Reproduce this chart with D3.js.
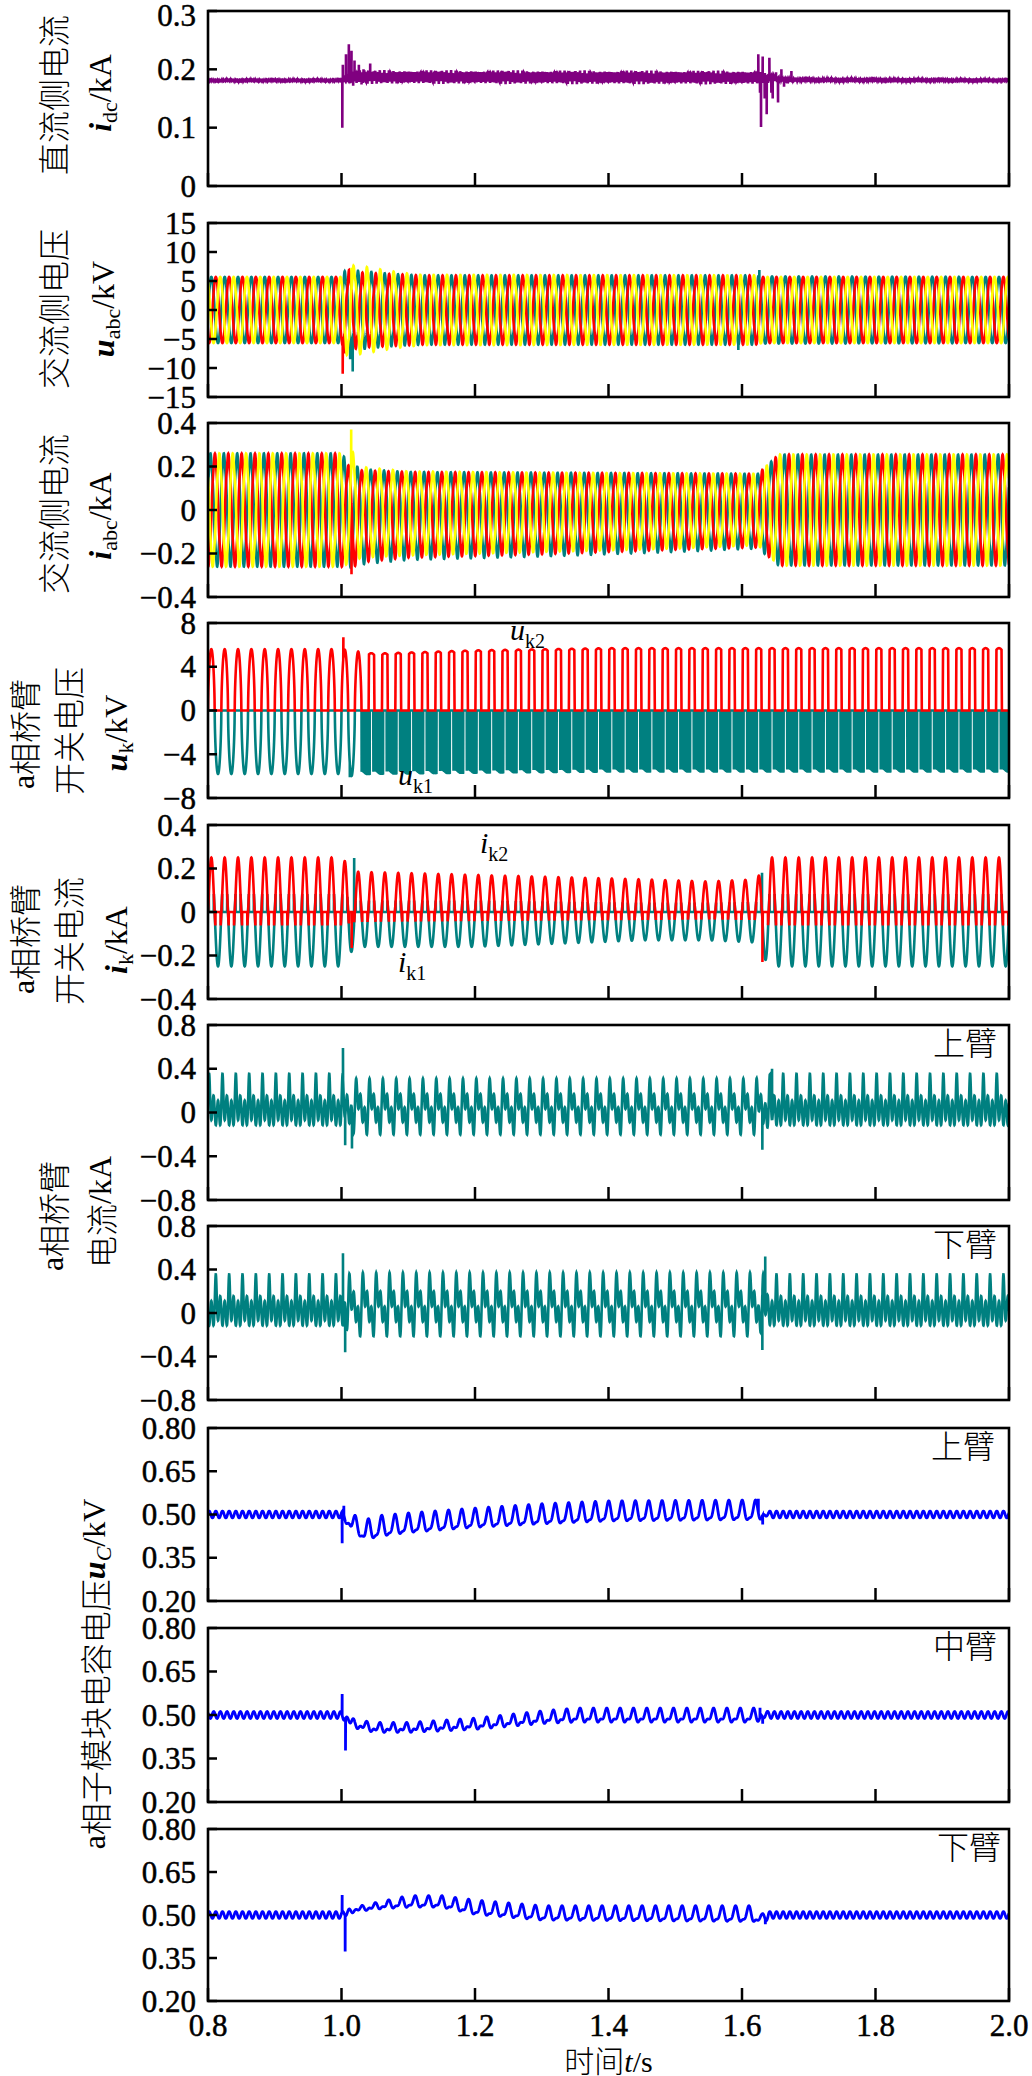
<!DOCTYPE html>
<html><head><meta charset="utf-8">
<script src="https://cdn.jsdelivr.net/npm/d3@7"></script>
<style>body{margin:0;background:#fff;}svg{display:block;}</style>
</head><body>
<svg id="chart" width="1032" height="2076"></svg>
<script>
// ================= DATA =================
const timeDomain = [0.8, 2.0];
const xTickValues = [0.8, 1.0, 1.2, 1.4, 1.6, 1.8, 2.0];
const xTickLabels = ["0.8", "1.0", "1.2", "1.4", "1.6", "1.8", "2.0"];
const gridFreq = 50;

const yDomains = [[0,0.3],[-15,15],[-0.4,0.4],[-8,8],[-0.4,0.4],[-0.8,0.8],[-0.8,0.8],[0.2,0.8],[0.2,0.8],[0.2,0.8]];
const yTickValues = [
  [0,0.1,0.2,0.3],[-15,-10,-5,0,5,10,15],[-0.4,-0.2,0,0.2,0.4],[-8,-4,0,4,8],[-0.4,-0.2,0,0.2,0.4],
  [-0.8,-0.4,0,0.4,0.8],[-0.8,-0.4,0,0.4,0.8],[0.2,0.35,0.5,0.65,0.8],[0.2,0.35,0.5,0.65,0.8],[0.2,0.35,0.5,0.65,0.8]];
const yTickLabels = [
  ["0","0.1","0.2","0.3"],["−15","−10","−5","0","5","10","15"],["−0.4","−0.2","0","0.2","0.4"],["−8","−4","0","4","8"],
  ["−0.4","−0.2","0","0.2","0.4"],["−0.8","−0.4","0","0.4","0.8"],["−0.8","−0.4","0","0.4","0.8"],
  ["0.20","0.35","0.50","0.65","0.80"],["0.20","0.35","0.50","0.65","0.80"],["0.20","0.35","0.50","0.65","0.80"]];

// Panel 1: DC-side current (kA)
const idcKeyT   = [0.8, 1.0, 1.02, 1.62, 1.67, 2.0];
const idcLevel  = [0.181, 0.181, 0.187, 0.186, 0.182, 0.181];
const idcRipple = [0.0015, 0.0015, 0.012, 0.012, 0.002, 0.0015];
const idcSpikes = [[1.0012,0.100],[1.0020,0.208],[1.0045,0.190],[1.0067,0.226],[1.0085,0.178],[1.0110,0.243],
  [1.0130,0.176],[1.0150,0.232],[1.0175,0.172],[1.0195,0.215],[1.0225,0.178],[1.0260,0.208],[1.0300,0.174],
  [1.0330,0.200],[1.0430,0.210],[1.6244,0.226],[1.6270,0.160],[1.6285,0.101],[1.6310,0.222],[1.6340,0.150],
  [1.6370,0.123],[1.6410,0.220],[1.6440,0.160],[1.6460,0.150],[1.6510,0.195],[1.6540,0.143],[1.6590,0.200],
  [1.6630,0.170],[1.6680,0.176],[1.6740,0.197],[1.6800,0.186]];

// Panel 2: AC-side voltage (kV), phases a(teal) b(red) c(yellow)
const uabcKeyT = [0.8, 1.0, 1.005, 1.03, 1.06, 1.09, 1.12, 1.62, 1.63, 2.0];
const uaAmp    = [5.7, 5.7, 6.2, 6.3, 6.0, 5.8, 5.7, 5.7, 5.8, 5.7];
const ubAmp    = [5.7, 5.7, 6.5, 6.0, 5.9, 5.8, 5.7, 5.7, 5.7, 5.7];
const ucAmp    = [5.7, 5.7, 7.2, 7.1, 6.6, 6.1, 5.8, 5.7, 5.7, 5.7];
const uabcDist = [0, 0, 0.6, 0.5, 0.4, 0.35, 0.3, 0.3, 0, 0];
const uaSpikes = [[1.0168,-10.6],[1.0130,-8.5],[1.5945,-6.9],[1.6260,6.9]];
const ubSpikes = [[1.0018,-11.0],[1.0050,-7.5]];
const ucSpikes = [[1.0150,7.3]];

// Panel 3: AC-side current (kA), positive/negative peak per phase
const iabcKeyT = [0.8, 1.0, 1.008, 1.03, 1.1, 1.3, 1.5, 1.624, 1.655, 2.0];
const iaPos = [0.25, 0.25, 0.22, 0.18, 0.168, 0.165, 0.162, 0.16, 0.245, 0.245];
const iaNeg = [0.25, 0.25, 0.26, 0.24, 0.22, 0.205, 0.185, 0.17, 0.245, 0.245];
const ibPos = [0.25, 0.25, 0.20, 0.175, 0.168, 0.165, 0.162, 0.16, 0.245, 0.245];
const ibNeg = [0.25, 0.25, 0.27, 0.23, 0.21, 0.195, 0.175, 0.165, 0.245, 0.245];
const icPos = [0.25, 0.25, 0.30, 0.19, 0.17, 0.165, 0.162, 0.16, 0.245, 0.245];
const icNeg = [0.25, 0.25, 0.24, 0.21, 0.20, 0.185, 0.17, 0.155, 0.245, 0.245];
const iaSpikes = [];
const ibSpikes = [[1.0150,-0.295]];
const icSpikes = [[1.0145,0.37]];

// Panel 4: a-phase bridge-arm switch voltages (kV)
const ukKeyT     = [0.8, 1.0, 1.01, 1.05, 1.2, 1.4, 2.0];
const uk2Amp     = [5.6, 5.6, 5.5, 5.2, 5.5, 5.7, 5.7];
const uk1Amp     = [5.8, 5.8, 6.0, 5.9, 5.8, 5.7, 5.7];
const ukSwitching= [0, 0, 0, 1, 1, 1, 1];
const uk2Spikes  = [[1.0028,6.7]];
const uk1Spikes  = [[1.0125,-6.1]];

// Panel 5: a-phase bridge-arm switch currents (kA)
const ikKeyT  = [0.8, 1.0, 1.02, 1.2, 1.45, 1.55, 1.622, 1.64, 2.0];
const ik2Amp  = [0.25, 0.25, 0.185, 0.17, 0.15, 0.14, 0.15, 0.25, 0.25];
const ik1Amp  = [0.25, 0.25, 0.16, 0.16, 0.13, 0.13, 0.14, 0.25, 0.25];
const ik2Spikes = [[1.0153,-0.165],[1.6306,-0.23]];
const ik1Spikes = [[1.0190,0.248],[1.6300,0.18]];

// Panels 6,7: a-phase arm currents (kA), harmonic content per period
const armKeyT = [0.8, 1.0, 1.02, 1.62, 1.645, 2.0];
const upOff = [0.02, 0.02, 0.04, 0.04, 0.02, 0.02];
const upA1  = [0.03, 0.03, 0.12, 0.12, 0.03, 0.03];
const upA2  = [0.00, 0.00, 0.06, 0.06, 0.00, 0.00];
const upA3  = [0.12, 0.12, 0.12, 0.12, 0.12, 0.12];
const upPk  = [0.20, 0.20, 0.03, 0.03, 0.20, 0.20];
const loOff = [0.02, 0.02, 0.06, 0.06, 0.02, 0.02];
const loA1  = [0.03, 0.03, 0.14, 0.14, 0.03, 0.03];
const loA2  = [0.00, 0.00, 0.07, 0.07, 0.00, 0.00];
const loA3  = [0.12, 0.12, 0.13, 0.13, 0.12, 0.12];
const loPk  = [0.20, 0.20, 0.04, 0.04, 0.20, 0.20];
const upArmSpikes = [[1.0022,0.59],[1.0055,-0.30],[1.0157,-0.33],[1.6305,-0.34],[1.6450,0.40]];
const loArmSpikes = [[1.0022,0.55],[1.0055,-0.36],[1.6305,-0.34],[1.6348,0.52]];

// Panels 8-10: sub-module capacitor voltages (kV): trough / peak per period, small ripple
const ucUpT   = [0.8, 1.0, 1.015, 1.035, 1.06, 1.1, 1.2, 1.3, 1.4, 1.625, 1.64, 2.0];
const ucUpLo  = [0.5, 0.5, 0.45, 0.415, 0.428, 0.44, 0.458, 0.47, 0.48, 0.485, 0.5, 0.5];
const ucUpHi  = [0.5, 0.5, 0.50, 0.48, 0.495, 0.503, 0.52, 0.535, 0.545, 0.548, 0.5, 0.5];
const ucUpRip = [0.012, 0.012, 0.004, 0.004, 0.004, 0.004, 0.004, 0.004, 0.004, 0.004, 0.012, 0.012];
const ucUpSpikes = [[1.0010,0.40],[1.0035,0.53],[1.6245,0.555],[1.6310,0.465]];
const ucMidT   = [0.8, 1.0, 1.02, 1.05, 1.1, 1.2, 1.3, 1.35, 1.62, 1.64, 2.0];
const ucMidLo  = [0.5, 0.5, 0.46, 0.445, 0.445, 0.455, 0.475, 0.48, 0.48, 0.5, 0.5];
const ucMidHi  = [0.5, 0.5, 0.48, 0.47, 0.47, 0.485, 0.51, 0.52, 0.52, 0.5, 0.5];
const ucMidRip = [0.012, 0.012, 0.006, 0.006, 0.006, 0.006, 0.006, 0.006, 0.006, 0.012, 0.012];
const ucMidSpikes = [[1.0010,0.572],[1.0060,0.378],[1.6270,0.525],[1.6310,0.47]];
const ucLowT   = [0.8, 1.0, 1.02, 1.06, 1.1, 1.15, 1.2, 1.3, 1.62, 1.63, 1.64, 2.0];
const ucLowLo  = [0.5, 0.5, 0.515, 0.525, 0.53, 0.53, 0.505, 0.485, 0.48, 0.47, 0.5, 0.5];
const ucLowHi  = [0.5, 0.5, 0.525, 0.545, 0.565, 0.565, 0.55, 0.53, 0.53, 0.5, 0.5, 0.5];
const ucLowRip = [0.012, 0.012, 0.004, 0.004, 0.004, 0.004, 0.004, 0.004, 0.004, 0.006, 0.012, 0.012];
const ucLowSpikes = [[1.0010,0.57],[1.0055,0.373],[1.6350,0.468]];

// ================= LAYOUT =================
const W = 1032, H = 2076;
const plotLeft = 208, plotRight = 1009;
const panelTop    = [11, 223, 423, 623, 825, 1025, 1226, 1428, 1628, 1829];
const panelBottom = [186, 397, 597, 798, 999, 1200, 1400, 1601, 1802, 2001];
const serif = "'Liberation Serif','Times New Roman',serif";
const cjk = "'Noto Sans CJK SC','Noto Sans CJK JP',sans-serif";
const COL = {purple:"#800080", teal:"#008080", red:"#ff0000", yellow:"#ffff00", blue:"#0000ff"};

const svg = d3.select("#chart");
svg.append("rect").attr("width", W).attr("height", H).attr("fill", "#fff");
const x = d3.scaleLinear().domain(timeDomain).range([plotLeft, plotRight]);
const ys = yDomains.map((d, i) => d3.scaleLinear().domain(d).range([panelBottom[i], panelTop[i]]));

const defs = svg.append("defs");
panelTop.forEach((t, i) => {
  defs.append("clipPath").attr("id", "clip" + i).append("rect")
    .attr("x", plotLeft).attr("y", t).attr("width", plotRight - plotLeft).attr("height", panelBottom[i] - t);
});

// ================= SIGNALS =================
const TWO_PI = 2 * Math.PI, w = TWO_PI * gridFreq;
const DT = 0.0002;
const tSamples = d3.range(0, Math.round((timeDomain[1] - timeDomain[0]) / DT) + 1).map(i => timeDomain[0] + i * DT);
function K(T, V) {
  const f = d3.scaleLinear().domain(T).range(V).clamp(true);
  return t => f(t);
}
function build(fn, spikes) {
  let pts = tSamples.map((t, i) => [t, fn(t, i)]);
  if (spikes && spikes.length) { pts = pts.concat(spikes.map(s => [s[0], s[1]])); pts.sort((a, b) => a[0] - b[0]); }
  return pts;
}
const series = [];

// Panel 1
{ const L = K(idcKeyT, idcLevel), R = K(idcKeyT, idcRipple);
  series.push({p:0, color:COL.purple, w:2.6, pts: build(t => L(t) + R(t) * (0.45*Math.sin(TWO_PI*300*t) + 0.3*Math.sin(TWO_PI*1170*t + 1.0) + 0.25*Math.sin(TWO_PI*730*t + 2.1)), idcSpikes)}); }

// Panel 2
{ const ph = [0, -TWO_PI/3, TWO_PI/3];
  const amps = [uaAmp, ubAmp, ucAmp], spk = [uaSpikes, ubSpikes, ucSpikes], cols = [COL.teal, COL.red, COL.yellow];
  const D = K(uabcKeyT, uabcDist);
  amps.forEach((a, k) => { const A = K(uabcKeyT, a);
    series.push({p:1, color:cols[k], w:2.6, pts: build(t => { const th = w*t + ph[k]; return A(t)*Math.sin(th) + D(t)*Math.sin(5*th + 0.7); }, spk[k])}); }); }

// Panel 3
{ const ph = [0.4, 0.4 - TWO_PI/3, 0.4 + TWO_PI/3];
  const pos = [iaPos, ibPos, icPos], neg = [iaNeg, ibNeg, icNeg], spk = [iaSpikes, ibSpikes, icSpikes], cols = [COL.teal, COL.red, COL.yellow];
  pos.forEach((pp, k) => { const P = K(iabcKeyT, pp), N = K(iabcKeyT, neg[k]);
    series.push({p:2, color:cols[k], w:2.6, pts: build(t => { const s = Math.sin(w*t + ph[k]) + 0.04*Math.sin(5*(w*t + ph[k])); return s >= 0 ? P(t)*s : N(t)*s; }, spk[k])}); }); }

// Panel 4
{ const A2 = K(ukKeyT, uk2Amp), A1 = K(ukKeyT, uk1Amp), S = K(ukKeyT, ukSwitching);
  series.push({p:3, color:COL.teal, w:2.6, pts: build((t, i) => { const s = Math.sin(w*t);
    if (S(t) < 0.5) return s < 0 ? -A1(t)*Math.pow(-s, 0.6) : 0;
    return s < 0.7 ? (i % 2 ? -A1(t)*(0.97 + 0.03*Math.cos(w*t)) : 0) : 0; }, uk1Spikes)});
  series.push({p:3, color:COL.red, w:2.6, pts: build(t => { const s = Math.sin(w*t);
    if (S(t) < 0.5) return s > 0 ? A2(t)*Math.pow(s, 0.6) : 0;
    return A2(t)*Math.max(0, Math.min(1, 6*(s - 0.2)))*(0.96 + 0.04*s); }, uk2Spikes)}); }

// Panel 5
{ const A2 = K(ikKeyT, ik2Amp), A1 = K(ikKeyT, ik1Amp);
  series.push({p:4, color:COL.teal, w:2.6, pts: build(t => { const s = Math.sin(w*t);
    return s < 0 ? A1(t)*s : (s < 0.42 ? A1(t)*s*0.9 : 0); }, ik1Spikes)});
  series.push({p:4, color:COL.red, w:2.6, pts: build(t => { const s = Math.sin(w*t);
    return s > 0 ? A2(t)*Math.pow(s, 1.2) : (s > -0.35 ? A2(t)*s*0.8 : 0); }, ik2Spikes)}); }

// Panels 6,7
function armFn(T, off, a1, a2, a3, pk, ph) {
  const O = K(T, off), B1 = K(T, a1), B2 = K(T, a2), B3 = K(T, a3), P = K(T, pk);
  return t => { const th = w*t + ph;
    return O(t) + B1(t)*Math.sin(th) + B2(t)*Math.sin(2*th) + B3(t)*Math.sin(3*th) + P(t)*Math.pow(Math.max(0, Math.cos(th - Math.PI/6)), 8); };
}
series.push({p:5, color:COL.teal, w:2.6, pts: build(armFn(armKeyT, upOff, upA1, upA2, upA3, upPk, 0), upArmSpikes)});
series.push({p:6, color:COL.teal, w:2.6, pts: build(armFn(armKeyT, loOff, loA1, loA2, loA3, loPk, Math.PI), loArmSpikes)});

// Panels 8-10
function capFn(T, lo, hi, rip, ph) {
  const L = K(T, lo), Hh = K(T, hi), R = K(T, rip);
  return t => { const th = w*t + ph; const g = Math.pow((1 + Math.cos(th))/2, 2);
    return L(t) + (Hh(t) - L(t))*g + R(t)*Math.sin(2*th + 0.5); };
}
series.push({p:7, color:COL.blue, w:2.8, pts: build(capFn(ucUpT, ucUpLo, ucUpHi, ucUpRip, 0), ucUpSpikes)});
series.push({p:8, color:COL.blue, w:2.8, pts: build(capFn(ucMidT, ucMidLo, ucMidHi, ucMidRip, 1.0), ucMidSpikes)});
series.push({p:9, color:COL.blue, w:2.8, pts: build(capFn(ucLowT, ucLowLo, ucLowHi, ucLowRip, Math.PI), ucLowSpikes)});

// ================= DRAW =================
series.forEach(s => {
  const yS = ys[s.p];
  const line = d3.line().x(d => x(d[0])).y(d => yS(d[1]));
  svg.append("path").attr("d", line(s.pts)).attr("fill", "none").attr("stroke", s.color)
    .attr("stroke-width", s.w).attr("stroke-linejoin", "miter").attr("clip-path", "url(#clip" + s.p + ")");
});

panelTop.forEach((top, i) => {
  const g = svg.append("g");
  const yS = ys[i];
  yTickValues[i].forEach((v, j) => {
    g.append("line").attr("x1", plotLeft).attr("x2", plotLeft + 9).attr("y1", yS(v)).attr("y2", yS(v))
      .attr("stroke", "#000").attr("stroke-width", 2.5);
    g.append("text").attr("x", 196).attr("y", yS(v) + (i === 0 && j === yTickValues[i].length - 1 ? 4 : 0))
      .attr("text-anchor", "end").attr("dominant-baseline", "central")
      .attr("font-family", serif).attr("font-size", 31).attr("fill", "#000")
      .attr("stroke", "#000").attr("stroke-width", 0.5).text(yTickLabels[i][j]);
  });
  xTickValues.forEach(v => {
    g.append("line").attr("x1", x(v)).attr("x2", x(v)).attr("y1", panelBottom[i]).attr("y2", panelBottom[i] - 13)
      .attr("stroke", "#000").attr("stroke-width", 2.5);
  });
  g.append("rect").attr("x", plotLeft).attr("y", top).attr("width", plotRight - plotLeft).attr("height", panelBottom[i] - top)
    .attr("fill", "none").attr("stroke", "#000").attr("stroke-width", 2.6);
});
xTickValues.forEach((v, j) => {
  svg.append("text").attr("x", x(v)).attr("y", 2036).attr("text-anchor", "middle")
    .attr("font-family", serif).attr("font-size", 31).attr("fill", "#000")
    .attr("stroke", "#000").attr("stroke-width", 0.5).text(xTickLabels[j]);
});

function rich(sel, parts, size) {
  const t = sel.append("text").attr("font-size", size).attr("fill", "#000");
  let shifted = 0;
  parts.forEach(p => {
    const ts = t.append("tspan").text(p.t).attr("font-family", p.cjk ? cjk : serif);
    if (p.it) ts.attr("font-style", "italic");
    if (p.b) ts.attr("font-weight", "bold");
    if (p.cjk) ts.attr("font-weight", 300);
    const want = p.sub ? Math.round(size*0.27) : 0;
    if (want !== shifted) { ts.attr("dy", want - shifted); shifted = want; }
    if (p.sub) ts.attr("font-size", Math.round(size*0.68));
  });
  return t;
}

const yLabelLines = [
  {cx:52,  cy:95,   parts:[{t:"直流侧电流",cjk:1}]},
  {cx:100, cy:93,   parts:[{t:"i",it:1,b:1},{t:"dc",sub:1},{t:"/kA"}]},
  {cx:52,  cy:309,  parts:[{t:"交流侧电压",cjk:1}]},
  {cx:103, cy:309,  parts:[{t:"u",it:1,b:1},{t:"abc",sub:1},{t:"/kV"}]},
  {cx:52,  cy:514,  parts:[{t:"交流侧电流",cjk:1}]},
  {cx:100, cy:516,  parts:[{t:"i",it:1,b:1},{t:"abc",sub:1},{t:"/kA"}]},
  {cx:23,  cy:734,  parts:[{t:"a"},{t:"相桥臂",cjk:1}]},
  {cx:67,  cy:731,  parts:[{t:"开关电压",cjk:1}]},
  {cx:116, cy:733,  parts:[{t:"u",it:1,b:1},{t:"k",sub:1},{t:"/kV"}]},
  {cx:23,  cy:939,  parts:[{t:"a"},{t:"相桥臂",cjk:1}]},
  {cx:67,  cy:941,  parts:[{t:"开关电流",cjk:1}]},
  {cx:116, cy:940,  parts:[{t:"i",it:1,b:1},{t:"k",sub:1},{t:"/kA"}]},
  {cx:52,  cy:1216, parts:[{t:"a"},{t:"相桥臂",cjk:1}]},
  {cx:100, cy:1212, parts:[{t:"电流",cjk:1},{t:"/kA"}]},
  {cx:94,  cy:1674, parts:[{t:"a"},{t:"相子模块电容电压",cjk:1},{t:"u",it:1,b:1},{t:"C",sub:1,it:1},{t:"/kV"}]}
];
yLabelLines.forEach(l => {
  const g = svg.append("g").attr("transform", `translate(${l.cx},${l.cy}) rotate(-90)`);
  rich(g, l.parts, 32).attr("text-anchor", "middle").attr("dominant-baseline", "central");
});

rich(svg, [{t:"时间",cjk:1},{t:"t",it:1},{t:"/s"}], 30).attr("x", x(1.4)).attr("y", 2072).attr("text-anchor", "middle");

const annots = [
  {p:3, t:1.2524, dy:17, parts:[{t:"u",it:1},{t:"k2",sub:1}]},
  {p:3, t:1.0846, dy:-13, parts:[{t:"u",it:1},{t:"k1",sub:1}]},
  {p:4, t:1.2075, dy:28, parts:[{t:"i",it:1},{t:"k2",sub:1}]},
  {p:4, t:1.0846, dy:-27, parts:[{t:"i",it:1},{t:"k1",sub:1}]}
];
annots.forEach(a => {
  const yy = a.dy > 0 ? panelTop[a.p] + a.dy : panelBottom[a.p] + a.dy;
  rich(svg, a.parts, 30).attr("x", x(a.t)).attr("y", yy);
});
const armNotes = [
  {p:5, t:1.886, text:"上臂"}, {p:6, t:1.886, text:"下臂"},
  {p:7, t:1.883, text:"上臂"}, {p:8, t:1.886, text:"中臂"}, {p:9, t:1.892, text:"下臂"}
];
armNotes.forEach(a => {
  svg.append("text").attr("x", x(a.t)).attr("y", panelTop[a.p] + 30).attr("font-family", cjk).attr("font-weight", 300)
    .attr("font-size", 32).attr("fill", "#000").text(a.text);
});
</script>
</body></html>
